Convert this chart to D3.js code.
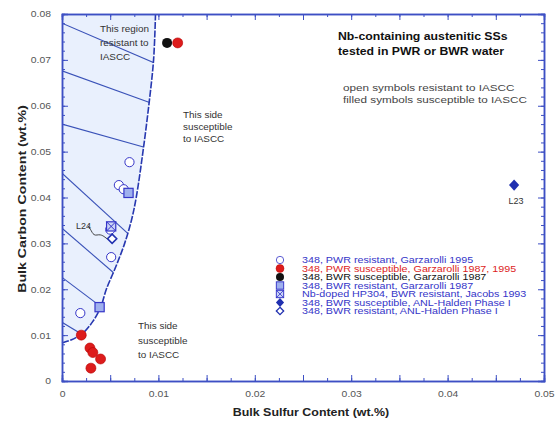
<!DOCTYPE html>
<html><head><meta charset="utf-8">
<script src="https://cdn.jsdelivr.net/npm/d3@7/dist/d3.min.js"></script>
<style>body{margin:0;background:#fff}svg{display:block;font-family:"Liberation Sans",Arial,sans-serif}</style>
</head><body><svg id="c" width="555" height="423"></svg>
<script>
// ---- data (sulfur wt.%, carbon wt.%) ----
const xTickLabels = [0, 0.01, 0.02, 0.03, 0.04, 0.05];
const yTickLabels = [0, 0.01, 0.02, 0.03, 0.04, 0.05, 0.06, 0.07, 0.08];
const pwrResistantG95 = [[0.0070,0.0477],[0.0059,0.0427],[0.0064,0.0418],[0.0050,0.0330],[0.0051,0.0270],[0.0019,0.0148]];
const pwrSusceptibleG = [[0.0020,0.0100],[0.0029,0.0072],[0.0032,0.0062],[0.0040,0.0048],[0.0030,0.0028],[0.0120,0.0737]];
const bwrSusceptibleG87 = [[0.0109,0.0737]];
const bwrResistantG87 = [[0.0069,0.0410],[0.0039,0.0161]];
const nbDopedJacobs = [[0.0051,0.0337]];
const bwrSusceptibleANL = [[0.0469,0.0427]];
const bwrResistantANL = [[0.0052,0.0310]];
const boundary = [[0,0.0083],[0.0010,0.0090],[0.0022,0.0105],[0.0032,0.0130],[0.0040,0.0160],[0.0046,0.0200],[0.0056,0.0250],[0.0065,0.0300],[0.0072,0.0350],[0.0077,0.0400],[0.0084,0.0500],[0.0090,0.0600],[0.0095,0.0700],[0.0097,0.0800]];
const hatchLines = [
  [[0,0.0780],[0.0096,0.0693]],
  [[0,0.0676],[0.0091,0.0607]],
  [[0,0.0560],[0.0085,0.0510]],
  [[0,0.0453],[0.0068,0.0322]],
  [[0,0.0333],[0.0053,0.0237]],
  [[0,0.0226],[0.0041,0.0161]],
  [[0,0.0128],[0.0022,0.0100]]
];
const legendLabels = [
  "348, PWR resistant, Garzarolli 1995",
  "348, PWR susceptible, Garzarolli 1987, 1995",
  "348, BWR susceptible, Garzarolli 1987",
  "348, BWR resistant, Garzarolli 1987",
  "Nb-doped HP304, BWR resistant, Jacobs 1993",
  "348, BWR susceptible, ANL-Halden Phase I",
  "348, BWR resistant, ANL-Halden Phase I"
];

// ---- layout ----
const svg = d3.select("#c");
const x = d3.scaleLinear().domain([0,0.05]).range([62,544]);
const y = d3.scaleLinear().domain([0,0.08]).range([381,14]);
const AX = "#3d4fc4", BLUE = "#3535c8", RED = "#dd1c1c";
function stretch(sel, f){ sel.each(function(){ const L=this.getComputedTextLength(); d3.select(this).attr("textLength",L*f).attr("lengthAdjust","spacingAndGlyphs"); }); return sel; }

// hatched region
const bLine = d3.line().x(d=>x(d[0])).y(d=>y(d[1])).curve(d3.curveCatmullRom);
const regionPath = bLine(boundary) + `L${x(0)},${y(0.08)}Z`;
svg.append("clipPath").attr("id","reg").append("path").attr("d", regionPath);
svg.append("path").attr("d", regionPath).attr("fill","#e9f0fd");
svg.append("g").attr("clip-path","url(#reg)").selectAll("line").data(hatchLines).join("line")
  .attr("x1",d=>x(d[0][0])).attr("y1",d=>y(d[0][1]))
  .attr("x2",d=>x(d[1][0])+4).attr("y2",d=>y(d[1][1])+4*(y(d[1][1])-y(d[0][1]))/(x(d[1][0])-x(d[0][0])))
  .attr("stroke","#3a52b8").attr("stroke-width",1.1);
svg.append("path").attr("d", bLine(boundary)).attr("fill","none").attr("stroke","#2738b0").attr("stroke-width",1.6).attr("stroke-dasharray","7,1.5");

// axes
const fmt = d => d===0 ? "0" : d3.format(".2f")(d);
const xMajor = d3.range(0,0.0501,0.005), xMinor = d3.range(0,0.0501,0.0025);
const yMajor = yTickLabels, yMinor = d3.range(0,0.0801,0.002);
function styleAxis(g){ g.select(".domain").attr("stroke",AX).attr("stroke-width",1.5);
  g.selectAll(".tick line").attr("stroke",AX);
  g.selectAll(".tick text").attr("fill","#555").attr("font-size",9).attr("font-family","Liberation Sans, Arial");
  stretch(g.selectAll(".tick text").filter(function(){return this.textContent!=="";}),1.15); }
svg.append("g").attr("transform","translate(0,381)").call(d3.axisBottom(x).tickValues(xMinor).tickSize(-3).tickFormat("")).call(styleAxis);
svg.append("g").attr("transform","translate(0,381)").call(d3.axisBottom(x).tickValues(xMajor).tickSize(-6).tickPadding(10)
  .tickFormat(d => xTickLabels.some(v=>Math.abs(v-d)<1e-9) ? fmt(d) : "")).call(styleAxis);
svg.append("g").attr("transform","translate(0,14)").call(d3.axisTop(x).tickValues(xMinor).tickSize(-3).tickFormat("")).call(styleAxis);
svg.append("g").attr("transform","translate(0,14)").call(d3.axisTop(x).tickValues(xMajor).tickSize(-6).tickFormat("")).call(styleAxis);
svg.append("g").attr("transform","translate(62,0)").call(d3.axisLeft(y).tickValues(yMinor).tickSize(-3).tickFormat("")).call(styleAxis);
svg.append("g").attr("transform","translate(62,0)").call(d3.axisLeft(y).tickValues(yMajor).tickSize(-6).tickPadding(11).tickFormat(fmt)).call(styleAxis);
svg.append("g").attr("transform","translate(544,0)").call(d3.axisRight(y).tickValues(yMinor).tickSize(-3).tickFormat("")).call(styleAxis);
svg.append("g").attr("transform","translate(544,0)").call(d3.axisRight(y).tickValues(yMajor).tickSize(-6).tickFormat("")).call(styleAxis);

// axis titles
stretch(svg.append("text").attr("x",311).attr("y",416).attr("text-anchor","middle").attr("font-weight","bold").attr("font-size",10).attr("fill","#222").text("Bulk Sulfur Content (wt.%)"),1.24);
stretch(svg.append("text").attr("transform","translate(26,199) rotate(-90)").attr("text-anchor","middle").attr("font-weight","bold").attr("font-size",10).attr("fill","#222").text("Bulk Carbon Content (wt.%)"),1.42);

// symbol drawers
const R = 4.6;
function draw(g, kind, cx, cy){
  if(kind==="openCircle") g.append("circle").attr("cx",cx).attr("cy",cy).attr("r",R).attr("fill","#fff").attr("stroke",BLUE).attr("stroke-width",1);
  if(kind==="red") g.append("circle").attr("cx",cx).attr("cy",cy).attr("r",R+0.4).attr("fill",RED).attr("stroke","#b50000").attr("stroke-width",0.6);
  if(kind==="black") g.append("circle").attr("cx",cx).attr("cy",cy).attr("r",R+0.4).attr("fill","#111");
  if(kind==="square") g.append("rect").attr("x",cx-R).attr("y",cy-R).attr("width",2*R).attr("height",2*R).attr("fill","#9fb0ee").attr("stroke",BLUE).attr("stroke-width",1.2);
  if(kind==="xsquare"){ g.append("rect").attr("x",cx-R).attr("y",cy-R).attr("width",2*R).attr("height",2*R).attr("fill","#c9d3f6").attr("stroke",BLUE).attr("stroke-width",1.2);
    g.append("path").attr("d",`M${cx-R},${cy-R}L${cx+R},${cy+R}M${cx+R},${cy-R}L${cx-R},${cy+R}`).attr("stroke",BLUE).attr("stroke-width",1); }
  if(kind==="diamond") g.append("path").attr("d",`M${cx},${cy-R-1}L${cx+R+0.5},${cy}L${cx},${cy+R+1}L${cx-R-0.5},${cy}Z`).attr("fill","#2030b0");
  if(kind==="openDiamond") g.append("path").attr("d",`M${cx},${cy-R}L${cx+R},${cy}L${cx},${cy+R}L${cx-R},${cy}Z`).attr("fill","#fff").attr("stroke","#2030b0").attr("stroke-width",1.6);
}
const series = [
  [pwrResistantG95,"openCircle"],[pwrSusceptibleG,"red"],[bwrSusceptibleG87,"black"],
  [bwrResistantG87,"square"],[nbDopedJacobs,"xsquare"],[bwrSusceptibleANL,"diamond"],[bwrResistantANL,"openDiamond"]
];
const pg = svg.append("g");
[0,6,3,4,1,2,5].forEach(i => series[i][0].forEach(d => draw(pg, series[i][1], x(d[0]), y(d[1]))));

// annotations
function lines(arr, x0, y0, dy, opts){
  arr.forEach((s,i)=> stretch(svg.append("text").attr("x",x0).attr("y",y0+i*dy).attr("font-size",opts.size)
    .attr("fill",opts.fill||"#333").attr("font-weight",opts.weight||"normal").text(s), opts.f||1));
}
lines(["This region","resistant to","IASCC"],100,32,14,{size:9,f:1.1});
lines(["This side","susceptible","to IASCC"],183,118,12,{size:9,f:1.1});
lines(["This side","susceptible","to IASCC"],138,329,14.5,{size:9,f:1.1});
lines(["Nb-containing austenitic SSs","tested in PWR or BWR water"],338,39.5,15,{size:10.3,weight:"bold",fill:"#111",f:1.19});
lines(["open symbols resistant to IASCC","filled symbols susceptible to IASCC"],343,91,12,{size:8.6,fill:"#444",f:1.36});
svg.append("text").attr("x",x(0.0469)+2).attr("y",y(0.0427)+19).attr("text-anchor","middle").attr("font-size",9).attr("fill","#333").text("L23");
svg.append("text").attr("x",76).attr("y",229).attr("font-size",9).attr("fill","#333").text("L24");
const lx = x(bwrResistantANL[0][0]), ly = y(bwrResistantANL[0][1]);
svg.append("path").attr("d",`M${88},${226}C${92},${230} ${92},${236} ${97},${235}S${lx-8},${ly-2} ${lx-5},${ly}`).attr("fill","none").attr("stroke","#333").attr("stroke-width",0.9);

// legend
const lg = svg.append("g");
const legKinds = ["openCircle","red","black","square","xsquare","diamond","openDiamond"];
const legColors = [BLUE, RED, "#111", BLUE, BLUE, BLUE, BLUE];
legendLabels.forEach((s,i)=>{
  const cy = 260 + i*8.5;
  const gg = lg.append("g").attr("transform",`translate(280,${cy}) scale(0.8) translate(-280,${-cy})`);
  draw(gg, legKinds[i], 280, cy);
  stretch(lg.append("text").attr("x",302).attr("y",cy+3).attr("font-size",8.8).attr("fill",legColors[i]).text(s),1.22);
});
</script></body></html>
